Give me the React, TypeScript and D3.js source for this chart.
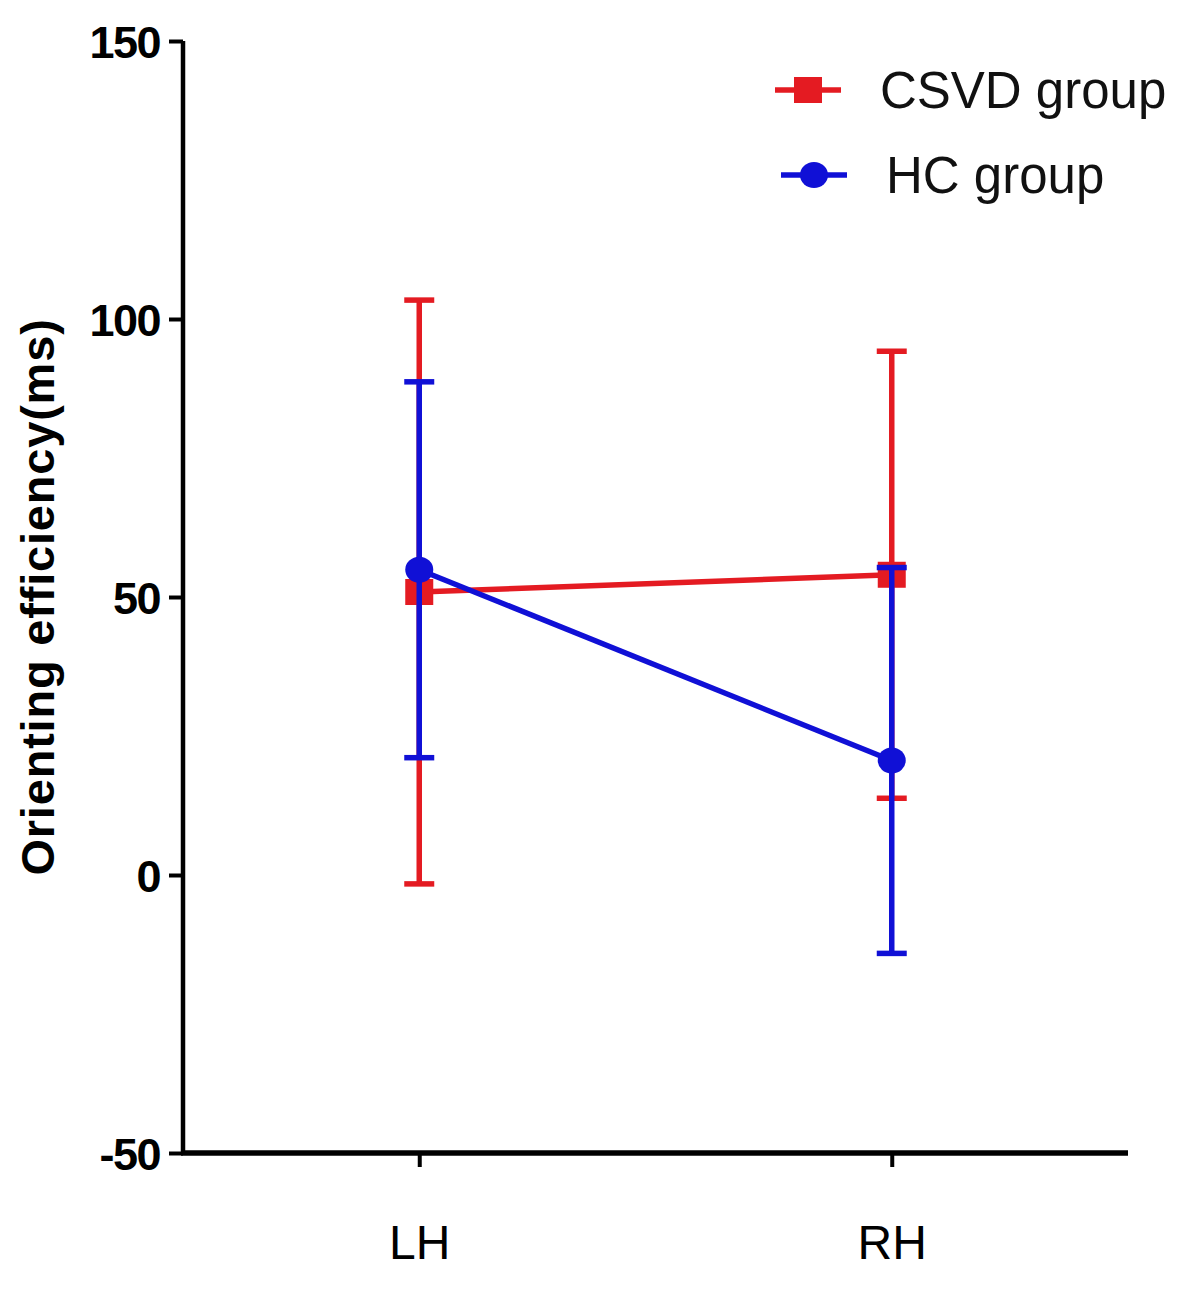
import React, { useRef, useEffect } from 'react';
import * as d3 from 'd3';

const hemispheres = ['LH', 'RH'];
const csvdMean = [50.9, 54.0];
const csvdSd = [52.5, 40.2];
const hcMean = [54.9, 20.6];
const hcSd = [33.8, 34.7];
const yTicks = [-50, 0, 50, 100, 150];

const RED = '#e41b22';
const BLUE = '#1010d6';

const App: React.FC = () => {
  const svgRef = useRef<SVGSVGElement | null>(null);

  useEffect(() => {
    if (!svgRef.current) return;
    const svg = d3.select(svgRef.current);
    svg.selectAll('*').remove();

    const width = 1183;
    const height = 1300;
    const margin = { top: 41, right: 55, bottom: 147, left: 183 };

    const x = d3.scalePoint<string>()
      .domain(hemispheres)
      .range([margin.left, width - margin.right])
      .padding(0.5);

    const y = d3.scaleLinear()
      .domain([-50, 150])
      .range([height - margin.bottom, margin.top]);

    const font = '"Liberation Sans", Arial, sans-serif';

    // Y axis
    const yAxis = svg.append('g')
      .attr('transform', `translate(${margin.left},0)`)
      .call(d3.axisLeft(y).tickValues(yTicks).tickSize(14).tickPadding(9).tickFormat(d => String(d)));
    yAxis.select('.domain').attr('stroke', '#000').attr('stroke-width', 4.5).attr('d', `M0,${y(150)}V${y(-50)}`);
    yAxis.selectAll('.tick line').attr('stroke', '#000').attr('stroke-width', 4);
    yAxis.selectAll('.tick text')
      .attr('fill', '#000')
      .attr('font-family', font)
      .attr('font-weight', 'bold')
      .attr('font-size', 45)
      .attr('letter-spacing', -1.5)
      .attr('dy', '0.36em');

    // X axis
    const xAxis = svg.append('g')
      .attr('transform', `translate(0,${y(-50)})`)
      .call(d3.axisBottom(x).tickSize(14).tickPadding(58));
    xAxis.select('.domain').attr('stroke', '#000').attr('stroke-width', 5.5).attr('d', `M${margin.left - 2},0H${width - margin.right}`);
    xAxis.selectAll('.tick line').attr('stroke', '#000').attr('stroke-width', 4);
    xAxis.selectAll('.tick text')
      .attr('fill', '#000')
      .attr('font-family', font)
      .attr('font-size', 48)
      .attr('dy', '0.71em');

    // Y label
    svg.append('text')
      .attr('transform', `translate(54,${(y(100) + y(0)) / 2}) rotate(-90)`)
      .attr('text-anchor', 'middle')
      .attr('font-family', font)
      .attr('font-weight', 'bold')
      .attr('font-size', 47)
      .attr('letter-spacing', 0.8)
      .attr('fill', '#000')
      .text('Orienting efficiency(ms)');

    const series = [
      { name: 'CSVD group', mean: csvdMean, sd: csvdSd, color: RED, shape: 'square' },
      { name: 'HC group', mean: hcMean, sd: hcSd, color: BLUE, shape: 'circle' },
    ];

    const line = d3.line<number>()
      .x((_, i) => x(hemispheres[i])!)
      .y(d => y(d));

    const capW = 15;
    const sw = 5.5;

    series.forEach(s => {
      const g = svg.append('g');
      // error bars
      s.mean.forEach((m, i) => {
        const cx = x(hemispheres[i])!;
        const top = y(m + s.sd[i]);
        const bot = y(m - s.sd[i]);
        g.append('line').attr('x1', cx).attr('x2', cx).attr('y1', top).attr('y2', bot)
          .attr('stroke', s.color).attr('stroke-width', sw);
        [top, bot].forEach(v => {
          g.append('line').attr('x1', cx - capW).attr('x2', cx + capW).attr('y1', v).attr('y2', v)
            .attr('stroke', s.color).attr('stroke-width', sw);
        });
      });
      // connecting line
      g.append('path').attr('d', line(s.mean)!).attr('fill', 'none')
        .attr('stroke', s.color).attr('stroke-width', sw);
      // markers
      s.mean.forEach((m, i) => {
        const cx = x(hemispheres[i])!;
        if (s.shape === 'square') {
          g.append('rect').attr('x', cx - 14).attr('y', y(m) - 13).attr('width', 28).attr('height', 26)
            .attr('fill', s.color);
        } else {
          g.append('ellipse').attr('cx', cx).attr('cy', y(m)).attr('rx', 14).attr('ry', 13)
            .attr('fill', s.color);
        }
      });
    });

    // Legend
    const legendRows = [
      { ...series[0], lx: 775, ly: 90, tx: 880 },
      { ...series[1], lx: 781, ly: 175, tx: 886 },
    ];
    legendRows.forEach(r => {
      const g = svg.append('g');
      g.append('line').attr('x1', r.lx).attr('x2', r.lx + 66).attr('y1', r.ly).attr('y2', r.ly)
        .attr('stroke', r.color).attr('stroke-width', sw);
      const cx = r.lx + 33;
      if (r.shape === 'square') {
        g.append('rect').attr('x', cx - 14).attr('y', r.ly - 13).attr('width', 28).attr('height', 26).attr('fill', r.color);
      } else {
        g.append('ellipse').attr('cx', cx).attr('cy', r.ly).attr('rx', 14).attr('ry', 13).attr('fill', r.color);
      }
      g.append('text')
        .attr('x', r.tx)
        .attr('y', r.ly)
        .attr('dy', '0.36em')
        .attr('font-family', font)
        .attr('font-size', 51)
        .attr('fill', '#111')
        .text(r.name);
    });
  }, []);

  return (
    <div style={{ position: 'absolute', left: 0, top: 0, background: '#fff' }}>
      <svg ref={svgRef} width={1183} height={1300} style={{ display: 'block' }} />
    </div>
  );
};

export default App;
